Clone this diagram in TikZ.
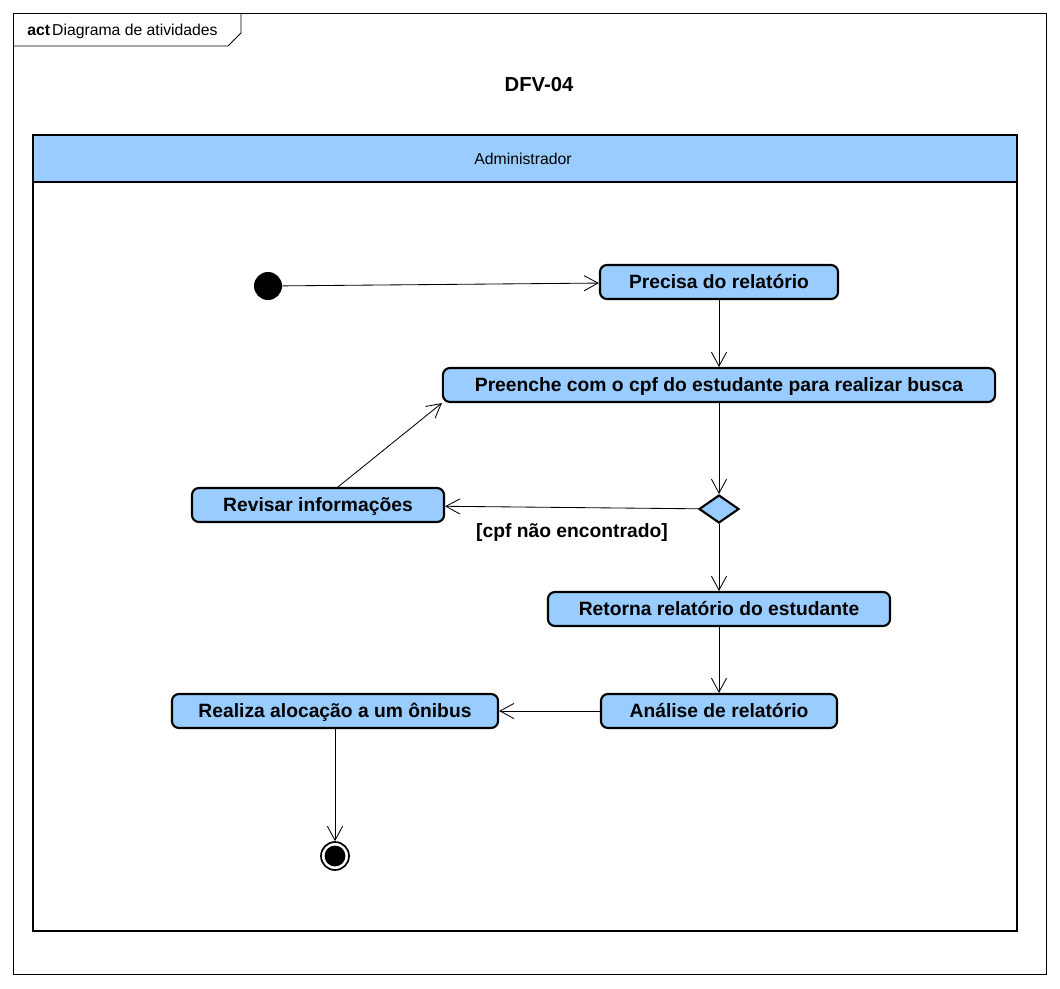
\documentclass[tikz,border=0pt]{standalone}
\usepackage{fontspec}
\setmainfont{Liberation Sans}
\usetikzlibrary{shapes.geometric, arrows.meta, positioning}
\definecolor{laneblue}{HTML}{99CCFF}
\tikzset{acao/.style={rectangle,draw,line width=1.5pt,fill=laneblue,rounded corners=5pt,minimum height=0.85cm,inner sep=2pt,text height=0.34cm,text depth=0.02cm,font=\fontsize{13.7}{16}\selectfont\bfseries},
         inicio/.style={circle,fill=black,minimum size=0.7cm,inner sep=0pt},
         fim/.style={circle,draw,line width=1.2pt,fill=white,minimum size=0.7cm,inner sep=0pt,
                     path picture={\fill[black] (path picture bounding box.center) circle (0.26cm);}},
         decisao/.style={diamond,draw,line width=1.5pt,fill=laneblue,minimum width=1cm,minimum height=0.7cm,inner sep=0pt},
         guarda/.style={font=\fontsize{13.7}{16}\selectfont\bfseries},
         raia/.style={line width=1.6pt},
         fluxo/.style={-{Straight Barb[length=3.5mm,width=3.8mm]},line width=0.6pt}}
\begin{document}
\begin{tikzpicture}[x=0.025cm,y=-0.025cm]
    \useasboundingbox (0,0) rectangle (1060,988);
    % moldura
    \draw[line width=0.6pt] (13,13) rectangle (1046,974);
    \draw[line width=0.6pt] (13,46) -- (228,46) -- (241,33) -- (241,13);
    \node (rotulo) [anchor=west, inner sep=0pt, font=\fontsize{11.2}{13}\selectfont] at (27,31) {\textbf{act}\kern1.5pt Diagrama de atividades};
    \node (titulo) [font=\fontsize{14.4}{17}\selectfont\bfseries] at (539,85) {DFV-04};
    % raia
    \draw[raia, fill=laneblue] (33,135) rectangle (1017,182);
    \draw[raia] (33,135) rectangle (1017,931);
    \node (admin) [font=\fontsize{11.2}{13}\selectfont] at (523,159) {Administrador};
    % atividades
    \node (ini) [inicio] at (268,286) {};
    \node (precisa) [acao, minimum width=5.95cm] at (719,282) {Precisa do relatório};
    \node (preenche) [acao, minimum width=13.8cm] at (719,385) {Preenche com o cpf do estudante para realizar busca};
    \node (dec) [decisao] at (719,509) {};
    \node (revisar) [acao, minimum width=6.3cm] at (318,505) {Revisar informações};
    \node (cpf) [guarda] at (572,533) {[cpf não encontrado]};
    \node (retorna) [acao, minimum width=8.55cm] at (719,609) {Retorna relatório do estudante};
    \node (analise) [acao, minimum width=5.9cm] at (719,711) {Análise de relatório};
    \node (realiza) [acao, minimum width=8.15cm] at (335,711) {Realiza alocação a um ônibus};
    \node (final) [fim] at (335,856) {};
    \foreach \i/\j in {ini/precisa,precisa/preenche,preenche/dec,dec/revisar,dec/retorna,retorna/analise,analise/realiza,realiza/final} {\draw[fluxo] (\i) -- (\j);}
    \draw[fluxo] ([xshift=0.5cm]revisar.north) -- (preenche.south west);
\end{tikzpicture}
\end{document}
